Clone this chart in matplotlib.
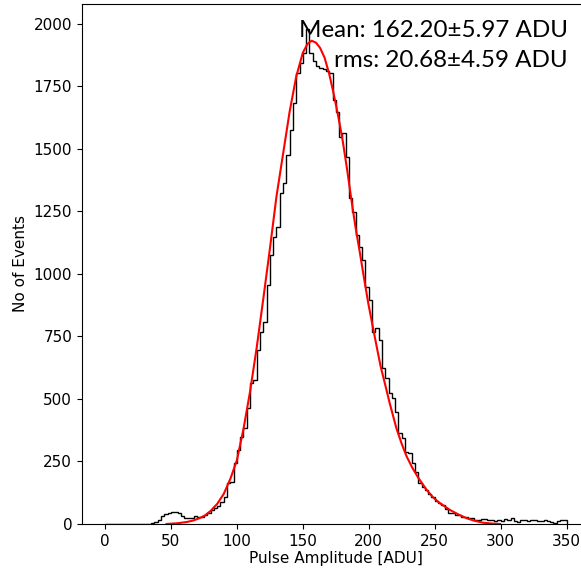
"""Pulse amplitude spectrum with fitted peak curve."""
import matplotlib

matplotlib.use("Agg")
import matplotlib.pyplot as plt
import numpy as np

# --- histogram: 140 bins of 2.5 ADU from 0 to 350 (counts) ---
BIN_LO, BIN_HI, BIN_W = 0.0, 350.0, 2.5
counts = [
    0, 0, 0, 0, 0, 0, 0, 0, 0, 0, 0, 0, 0, 0,          # 0 - 35
    2, 6, 16, 30, 40, 43, 46, 48, 42, 30,              # 35 - 60
    22, 25, 24, 31, 26, 29, 35, 45, 55, 62,            # 60 - 85
    72, 89, 109, 163, 169, 243, 296, 349, 383, 463,    # 85 - 110
    563, 576, 696, 769, 809, 956, 1076, 1149, 1189, 1323,    # 110 - 135
    1363, 1476, 1576, 1683, 1803, 1843, 1883, 1978, 1885, 1850,  # 135 - 160
    1830, 1823, 1818, 1812, 1803, 1696, 1649, 1549, 1563, 1469,  # 160 - 185
    1303, 1249, 1156, 1109, 1056, 949, 896, 769, 783, 736,    # 185 - 210
    623, 583, 523, 503, 449, 363, 343, 289, 283, 243,         # 210 - 235
    209, 163, 149, 136, 120, 106, 92, 84, 76, 58,             # 235 - 260
    45, 42, 37, 35, 28, 26, 23, 22, 17, 16,                   # 260 - 285
    20, 19, 14, 17, 13, 16, 11, 18, 14, 24,                   # 285 - 310
    13, 9, 15, 16, 12, 15, 14, 12, 10, 14,                    # 310 - 335
    13, 8, 5, 10, 14, 15,                                     # 335 - 350
]

# --- fitted curve, sampled off the red line ---
fit_x = [46.7, 55.0, 62.0, 67.0, 72.0, 76.0, 80.0, 85.0, 90.0, 95.0,
         100.0, 105.0, 110.0, 115.0, 120.0, 125.0, 130.0, 135.0, 140.0, 145.0,
         150.0, 153.5, 156.7, 160.0, 163.0, 166.5, 170.0, 173.0, 176.5, 180.0,
         183.5, 187.0, 190.0, 193.3, 196.5, 199.6, 203.0, 206.0, 209.0, 212.3,
         216.0, 221.1, 225.0, 228.7, 233.0, 237.5, 243.9, 249.0, 254.0, 261.6,
         268.0, 274.2, 280.0, 286.8, 293.0, 299.5]
fit_y = [0, 3, 8, 14, 24, 35, 52, 80, 120, 180,
         255, 380, 530, 705, 900, 1100, 1310, 1480, 1650, 1790,
         1885, 1920, 1933, 1925, 1905, 1865, 1800, 1730, 1640, 1540,
         1420, 1290, 1185, 1083, 980, 883, 790, 709, 630, 560,
         480, 380, 320, 270, 225, 185, 136, 105, 83, 56,
         38, 23, 13, 5, 2, 0]

MEAN_TXT = "Mean: 162.20\u00b15.97 ADU"
RMS_TXT = "rms: 20.68\u00b14.59 ADU"

edges = np.arange(BIN_LO, BIN_HI + BIN_W / 2, BIN_W)

fig = plt.figure(figsize=(5.81, 5.76), dpi=100)
ax = fig.add_axes([0.141, 0.0903, 0.874, 0.9028])

ax.hist(edges[:-1], bins=edges, weights=counts, histtype="step",
        color="black", linewidth=1.0)
ax.plot(fit_x, fit_y, color="red", linewidth=1.5)

ax.set_xlim(-17.5, 367.5)
ax.set_ylim(0, 2080)
ax.set_xticks([0, 50, 100, 150, 200, 250, 300, 350])
ax.set_yticks([0, 250, 500, 750, 1000, 1250, 1500, 1750, 2000])
ax.tick_params(labelsize=11)
ax.set_xlabel("Pulse Amplitude [ADU]", fontsize=11, labelpad=2)
ax.set_ylabel("No of Events", fontsize=11)

fig.text(568 / 581, 1 - 37 / 576, MEAN_TXT, ha="right", va="baseline",
         fontsize=17.4, family=["Lato", "DejaVu Sans"])
fig.text(568 / 581, 1 - 67 / 576, RMS_TXT, ha="right", va="baseline",
         fontsize=17.4, family=["Lato", "DejaVu Sans"])

fig.savefig("out.png", dpi=100)
